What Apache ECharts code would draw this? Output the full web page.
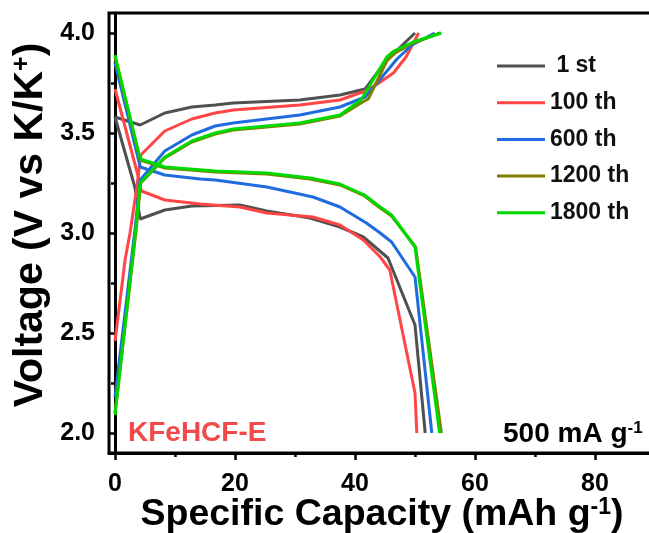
<!DOCTYPE html>
<html>
<head>
<meta charset="utf-8">
<script src="https://cdn.jsdelivr.net/npm/echarts@6/dist/echarts.min.js"></script>
<style>
  html, body { margin: 0; padding: 0; background: #fff; }
  #chart { width: 649px; height: 533px; }
</style>
</head>
<body>
<div id="chart"></div>
<script>
// Galvanostatic charge / discharge profiles, [capacity (mAh/g), voltage (V)]
const cycleNames = [' 1 st', '100 th', '600 th', '1200 th', '1800 th'];
const cycleColors = ['#505050', '#ff4545', '#1f6be0', '#808000', '#00d900'];

const charge1st = [[0, 3.58], [4.2, 3.54], [8.3, 3.60], [12.8, 3.63], [16.7, 3.64], [19.7, 3.65],
  [30.8, 3.665], [37.5, 3.69], [41.7, 3.72], [45.3, 3.865], [50.0, 4.0]];
const discharge1st = [[0, 3.58], [1.5, 3.42], [3.3, 3.23], [4.2, 3.07], [8.3, 3.115], [12.8, 3.135],
  [20.8, 3.14], [25.3, 3.11], [32.5, 3.075], [37.5, 3.03], [41.4, 2.98], [45.5, 2.875],
  [50.0, 2.54], [51.7, 2.0]];

const charge100th = [[0, 2.46], [1.7, 2.87], [2.5, 3.0], [3.6, 3.22], [4.3, 3.39], [8.3, 3.51],
  [12.8, 3.57], [16.7, 3.60], [19.7, 3.615], [30.8, 3.64], [37.5, 3.665], [41.7, 3.71],
  [43.5, 3.74], [46.4, 3.80], [48.5, 3.88], [50.6, 4.0]];
const discharge100th = [[0, 3.72], [3.9, 3.28], [4.4, 3.21], [8.3, 3.165], [14.2, 3.145], [20.8, 3.13],
  [25.3, 3.10], [33.0, 3.08], [37.5, 3.04], [41.4, 2.965], [44.2, 2.88], [45.8, 2.815],
  [50.0, 2.2], [50.3, 2.0]];

const charge600th = [[0, 2.18], [3.3, 3.01], [4.2, 3.265], [8.3, 3.41], [12.8, 3.49], [16.7, 3.535],
  [19.7, 3.55], [30.8, 3.59], [37.5, 3.63], [41.7, 3.68], [44.5, 3.78], [47.0, 3.87],
  [49.5, 3.94], [53.3, 4.0]];
const discharge600th = [[0, 3.85], [4.2, 3.33], [8.3, 3.29], [14.2, 3.27], [16.7, 3.265], [25.3, 3.23],
  [33.0, 3.18], [37.5, 3.13], [41.9, 3.05], [44.2, 3.0], [46.1, 2.955], [50.0, 2.78], [52.8, 2.0]];

const charge1200th = [[0, 2.10], [3.5, 3.01], [4.3, 3.25], [8.3, 3.375], [12.8, 3.455], [16.7, 3.495],
  [19.7, 3.515], [30.8, 3.545], [37.5, 3.585], [41.0, 3.65], [42.2, 3.67], [45.3, 3.86],
  [46.7, 3.90], [49.7, 3.95], [54.2, 4.0]];
const discharge1200th = [[0, 3.88], [4.2, 3.365], [8.3, 3.325], [16.7, 3.305], [25.3, 3.295],
  [32.5, 3.27], [37.5, 3.24], [41.6, 3.185], [44.2, 3.125], [46.1, 3.085], [50.1, 2.93], [54.4, 2.0]];

const charge1800th = [[0, 2.09], [3.45, 3.015], [4.2, 3.25], [8.3, 3.38], [12.8, 3.46], [16.7, 3.50],
  [19.7, 3.52], [30.8, 3.55], [37.5, 3.59], [41.0, 3.665], [45.3, 3.88], [46.5, 3.91],
  [49.7, 3.955], [54.4, 4.0]];
const discharge1800th = [[0, 3.89], [4.2, 3.37], [8.3, 3.33], [16.7, 3.31], [25.3, 3.30],
  [32.5, 3.275], [37.5, 3.245], [41.6, 3.19], [44.2, 3.13], [46.1, 3.09], [50.0, 2.93], [54.1, 2.0]];

const cycleCurves = [
  [charge1st, discharge1st],
  [charge100th, discharge100th],
  [charge600th, discharge600th],
  [charge1200th, discharge1200th],
  [charge1800th, discharge1800th]
];

const xMajorTicks = [0, 20, 40, 60, 80];
const xMinorTicks = [10, 30, 50, 70, 90];
const yMajorTicks = [2.0, 2.5, 3.0, 3.5, 4.0];
const yMinorTicks = [2.25, 2.75, 3.25, 3.75];

const FONT = '"Liberation Sans", Arial, sans-serif';

const series = [];
cycleCurves.forEach((pair, i) => {
  pair.forEach(curve => {
    series.push({
      type: 'line',
      name: cycleNames[i],
      data: curve,
      xAxisIndex: 0,
      yAxisIndex: 0,
      showSymbol: false,
      symbol: 'none',
      lineStyle: { width: 3, color: cycleColors[i] },
      itemStyle: { color: cycleColors[i] },
      animation: false
    });
  });
});

const chart = echarts.init(document.getElementById('chart'), null, { renderer: 'canvas' });

const baseAxisLine = { show: true, lineStyle: { color: '#000', width: 3 } };
const hiddenAxisLine = { show: true, lineStyle: { color: 'rgba(0,0,0,0)', width: 0 } };
const supStyle = size => ({ fontFamily: FONT, fontWeight: 'bold', fontSize: size, verticalAlign: 'top', color: '#000' });

chart.setOption({
  backgroundColor: '#fff',
  animation: false,
  grid: {
    left: 109, right: -6, top: 13, bottom: 80,
    outerBoundsMode: 'none',
    containLabel: false,
    show: true, borderColor: '#000', borderWidth: 3, backgroundColor: 'transparent'
  },
  legend: {
    data: cycleNames,
    orient: 'vertical',
    left: 492,
    top: 49,
    icon: 'rect',
    itemWidth: 48,
    itemHeight: 3,
    itemGap: 12.7,
    textStyle: { fontFamily: FONT, fontWeight: 'bold', fontSize: 23, color: '#111', lineHeight: 24 }
  },
  xAxis: [
    {
      type: 'value', min: -1, max: 90, position: 'bottom',
      name: 'Specific Capacity (mAh g{sup|-1})',
      nameLocation: 'middle', nameGap: 43, nameMoveOverlap: false,
      nameTextStyle: {
        fontFamily: FONT, fontWeight: 'bold', fontSize: 37.5, color: '#000',
        rich: { sup: supStyle(23) }
      },
      axisLine: baseAxisLine,
      axisTick: { show: true, customValues: xMajorTicks, length: 7, lineStyle: { color: '#000', width: 2.5 } },
      axisLabel: {
        customValues: xMajorTicks, margin: 19,
        fontFamily: FONT, fontWeight: 'bold', fontSize: 25, color: '#000'
      },
      splitLine: { show: false }
    },
    {
      type: 'value', min: -1, max: 90, position: 'bottom', offset: 0,
      axisLine: hiddenAxisLine,
      axisTick: { show: true, customValues: xMinorTicks, length: 4, lineStyle: { color: '#000', width: 2.5 } },
      axisLabel: { show: false },
      splitLine: { show: false }
    }
  ],
  yAxis: [
    {
      type: 'value', min: 1.9, max: 4.1, position: 'left',
      name: 'Voltage (V vs K/K{sup|+})',
      nameLocation: 'middle', nameGap: 58, nameMoveOverlap: false,
      nameTextStyle: {
        fontFamily: FONT, fontWeight: 'bold', fontSize: 41, color: '#000',
        padding: [0, 0, 0, 16],
        rich: { sup: supStyle(25) }
      },
      axisLine: baseAxisLine,
      axisTick: { show: true, customValues: yMajorTicks, length: 7, lineStyle: { color: '#000', width: 2.5 } },
      axisLabel: {
        customValues: yMajorTicks, margin: 14,
        formatter: v => v.toFixed(1),
        fontFamily: FONT, fontWeight: 'bold', fontSize: 25, color: '#000'
      },
      splitLine: { show: false }
    },
    {
      type: 'value', min: 1.9, max: 4.1, position: 'left', offset: 0,
      axisLine: hiddenAxisLine,
      axisTick: { show: true, customValues: yMinorTicks, length: 4, lineStyle: { color: '#000', width: 2.5 } },
      axisLabel: { show: false },
      splitLine: { show: false }
    }
  ],
  graphic: [
    {
      type: 'text', left: 128, top: 419,
      style: { text: 'KFeHCF-E', fontFamily: FONT, fontWeight: 'bold', fontSize: 28, fill: '#f24a4a' }
    },
    {
      type: 'text', left: 503, top: 420,
      style: {
        text: '500 mA g{sup|-1}',
        fontFamily: FONT, fontWeight: 'bold', fontSize: 28, fill: '#000',
        rich: { sup: { fontFamily: FONT, fontWeight: 'bold', fontSize: 17, verticalAlign: 'top', fill: '#000' } }
      }
    }
  ],
  series: series
});
</script>
</body>
</html>
